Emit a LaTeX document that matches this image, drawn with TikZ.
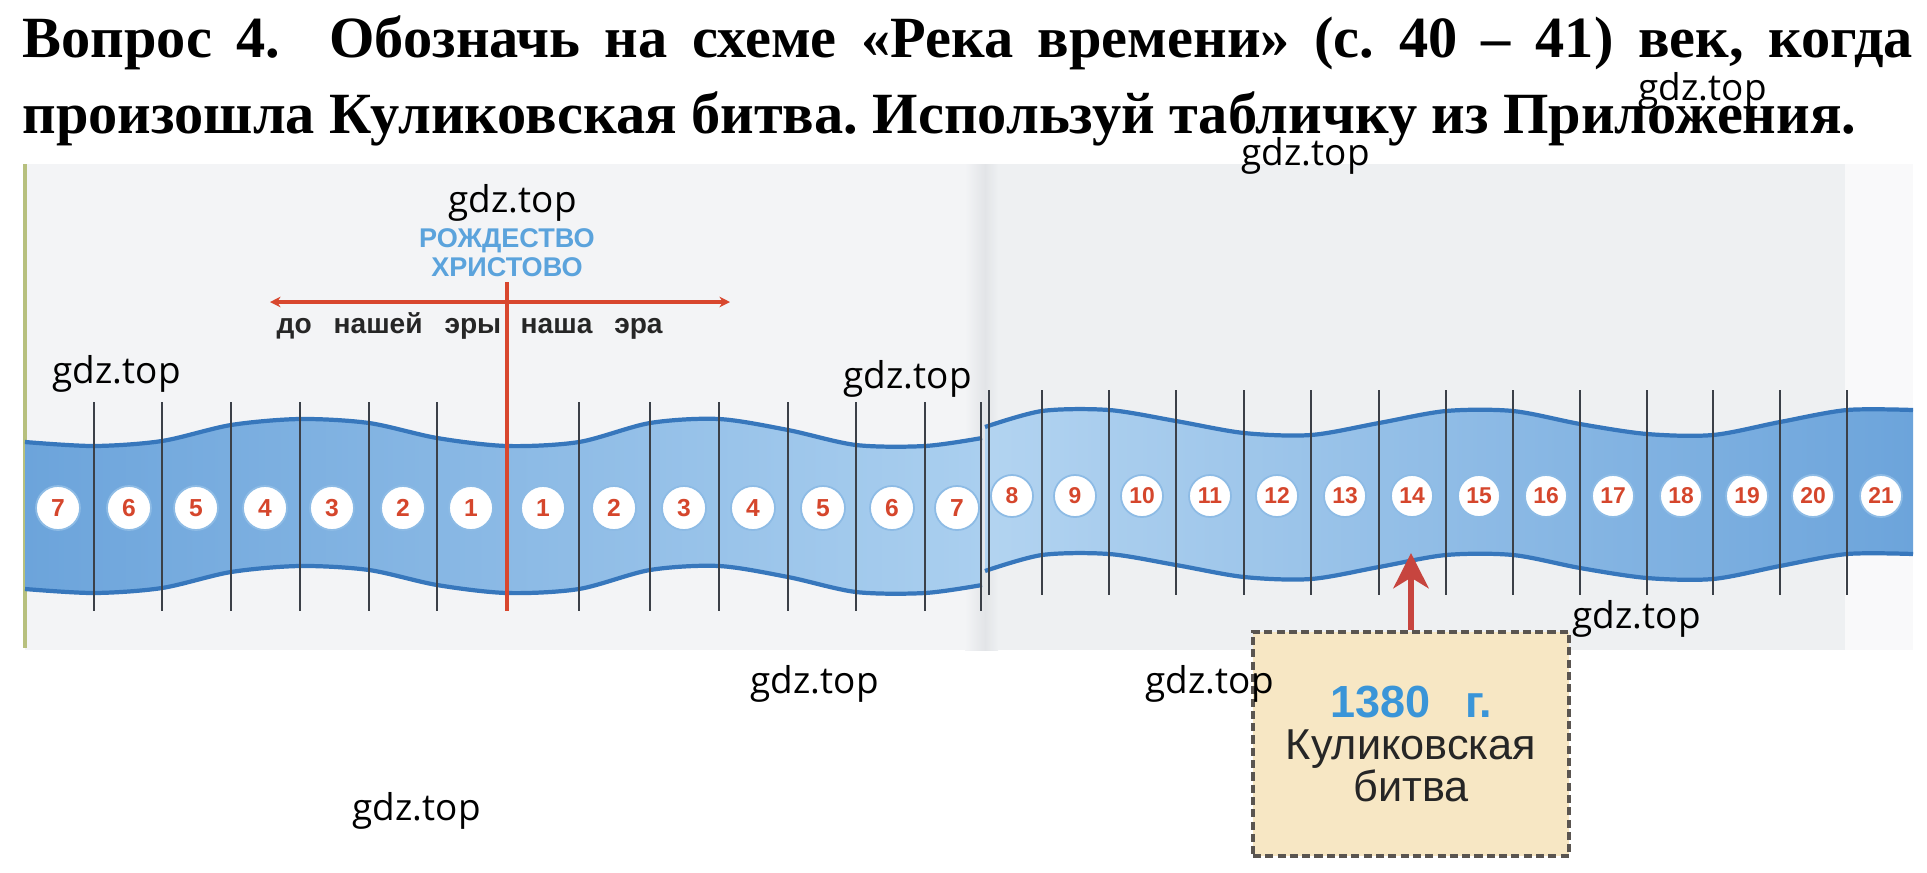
\documentclass[tikz,border=0pt]{standalone}
\usepackage{fontspec}
\setmainfont{Liberation Serif}
\setsansfont{Liberation Sans}
\newfontfamily\wmfont{Open Sans}
\usetikzlibrary{arrows.meta}
\frenchspacing

\definecolor{riverdark}{HTML}{6CA4DB}
\definecolor{riverlight}{HTML}{AACFEF}
\definecolor{riveredge}{HTML}{3777BC}
\definecolor{numred}{HTML}{D5462C}
\definecolor{xred}{HTML}{D8472E}
\definecolor{arrowred}{HTML}{C7453F}
\definecolor{ringblue}{HTML}{8DBBE5}
\definecolor{tickgray}{HTML}{3B4048}
\definecolor{titleblue}{HTML}{5BA3DC}
\definecolor{datablue}{HTML}{3A95D8}
\definecolor{notefill}{HTML}{F7E7C4}
\definecolor{notedash}{HTML}{5A5550}
\definecolor{pagebg}{HTML}{F3F4F6}
\definecolor{pagebgr}{HTML}{EEF0F2}
\definecolor{gutter}{HTML}{E2E4E7}
\definecolor{spine}{HTML}{B7C07E}

\tikzset{
  wm/.style={font=\wmfont\fontsize{10.5}{12}\selectfont, anchor=base west, inner sep=0pt},
  tick/.style={tickgray, line width=0.55pt},
  century/.style={circle, fill=white, draw=ringblue, line width=0.5pt, inner sep=0pt,
    minimum size=0.44cm, text=numred, font=\sffamily\bfseries\fontsize{7}{7}\selectfont},
  riverrim/.style={riveredge, line width=1.2pt},
  era/.style={anchor=base west, inner sep=0pt, text=black!85,
    font=\sffamily\bfseries\fontsize{8}{9}\selectfont}
}

\begin{document}
\begin{tikzpicture}[x=0.01cm, y=-0.01cm]
  \useasboundingbox[fill=white] (0,0) rectangle (1927,872);

  \node[anchor=base west, inner sep=0pt, font=\bfseries\fontsize{16.6}{18}\selectfont] (title1) at (22,57)
    {\makebox[18.89cm][s]{Вопрос 4.\ \ Обозначь на схеме «Река времени» (с. 40 – 41) век, когда}};
  \node[anchor=base west, inner sep=0pt, font=\bfseries\fontsize{16.6}{18}\selectfont] (title2) at (22,133)
    {произошла Куликовская битва. Используй табличку из Приложения.};

  \fill[pagebg] (25,164) rectangle (985,650);
  \fill[pagebgr] (985,164) rectangle (1845,650);
  \fill[pagebg!50!white] (1845,164) rectangle (1913,650);
  \shade[left color=pagebg, right color=gutter] (965,164) rectangle (985,650);
  \shade[left color=gutter, right color=pagebgr] (985,164) rectangle (998,650);
  \draw[spine, line width=0.9pt] (25,164) -- (25,648);

  \shade[left color=riverdark, right color=riverlight]
    plot[smooth] coordinates {(25,442) (94,446) (162,441) (231,425) (300,419) (369,423) (437,438) (507,446)
      (579,442) (650,423) (719,419) (788,430) (856,445) (925,446) (982,438)}
    -- plot[smooth] coordinates {(982,585) (925,593) (856,592) (788,577) (719,566) (650,570) (579,589)
      (507,593) (437,585) (369,570) (300,566) (231,572) (162,588) (94,593) (25,589)} -- cycle;
  \draw[riverrim] plot[smooth] coordinates {(25,442) (94,446) (162,441) (231,425) (300,419) (369,423)
    (437,438) (507,446) (579,442) (650,423) (719,419) (788,430) (856,445) (925,446) (982,438)};
  \draw[riverrim] plot[smooth] coordinates {(25,589) (94,593) (162,588) (231,572) (300,566) (369,570)
    (437,585) (507,593) (579,589) (650,570) (719,566) (788,577) (856,592) (925,593) (982,585)};

  \shade[left color=riverlight!90!white, right color=riverdark]
    plot[smooth] coordinates {(985,427) (1042,411) (1109,410) (1176,421) (1244,433) (1311,435) (1379,423)
      (1446,411) (1513,411) (1580,424) (1647,434) (1713,435) (1780,422) (1847,410) (1913,410)}
    -- plot[smooth] coordinates {(1913,554) (1847,554) (1780,566) (1713,579) (1647,578) (1580,568)
      (1513,555) (1446,555) (1379,567) (1311,579) (1244,577) (1176,565) (1109,554) (1042,555) (985,571)} -- cycle;
  \draw[riverrim] plot[smooth] coordinates {(985,427) (1042,411) (1109,410) (1176,421) (1244,433) (1311,435)
    (1379,423) (1446,411) (1513,411) (1580,424) (1647,434) (1713,435) (1780,422) (1847,410) (1913,410)};
  \draw[riverrim] plot[smooth] coordinates {(985,571) (1042,555) (1109,554) (1176,565) (1244,577) (1311,579)
    (1379,567) (1446,555) (1513,555) (1580,568) (1647,578) (1713,579) (1780,566) (1847,554) (1913,554)};

  \foreach \x in {94,162,231,300,369,437,579,650,719,788,856,925,981}
    \draw[tick] (\x,402) -- (\x,611);
  \foreach \x in {989,1042,1109,1176,1244,1311,1379,1446,1513,1580,1647,1713,1780,1847}
    \draw[tick] (\x,390) -- (\x,595);

  \foreach \n/\x in {7/58,6/129,5/196,4/265,3/332,2/403,1/471}
    \node[century] (bc\n) at (\x,508) {\n};
  \foreach \n/\x in {1/543,2/614,3/684,4/753,5/823,6/892,7/957}
    \node[century] (ad\n) at (\x,508) {\n};
  \foreach \n/\x in {8/1012,9/1075,10/1142,11/1210,12/1277,13/1345,14/1412,15/1479,16/1546,17/1613,
      18/1681,19/1747,20/1813,21/1881}
    \node[century, minimum size=0.42cm, font=\sffamily\bfseries\fontsize{6.5}{7}\selectfont] (ad\n) at (\x,496) {\n};

  \draw[xred, line width=1.2pt] (507,282) -- (507,611);
  \draw[xred, line width=1.1pt, {Stealth[length=3pt,width=3pt]}-{Stealth[length=3pt,width=3pt]}] (270,302) -- (730,302);
  \node[inner sep=0pt, align=center, text=titleblue, font=\sffamily\bfseries\fontsize{7.7}{8.3}\selectfont] (birth)
    at (507,253) {РОЖДЕСТВО\\ХРИСТОВО};
  \node[era] (bce) at (276,333) {до \enspace нашей \enspace эры};
  \node[era] (ce) at (520,333) {наша \enspace эра};

  \node[draw=notedash, line width=1.1pt, dash pattern=on 2.3pt off 1.2pt, fill=notefill,
    minimum width=3.16cm, minimum height=2.24cm, align=center, text=black!85,
    font=\sffamily\fontsize{12.3}{12}\selectfont] (battle) at (1411,744)
    {{\bfseries\color{datablue}\fontsize{12.8}{12}\selectfont 1380 \enspace г.}\\Куликовская\\битва};
  \coordinate (mark) at (1411,553);
  \draw[arrowred, line width=1.7pt, -{Stealth[length=10pt,width=10pt,inset=3pt]}] (battle.north) -- (mark);

  \foreach \x/\y [count=\k] in {1638/100,1241/165,448/212,52/383,843/388,1572/628,750/693,1145/693,352/820}
    \node[wm] (wm\k) at (\x,\y) {gdz.top};
\end{tikzpicture}
\end{document}
